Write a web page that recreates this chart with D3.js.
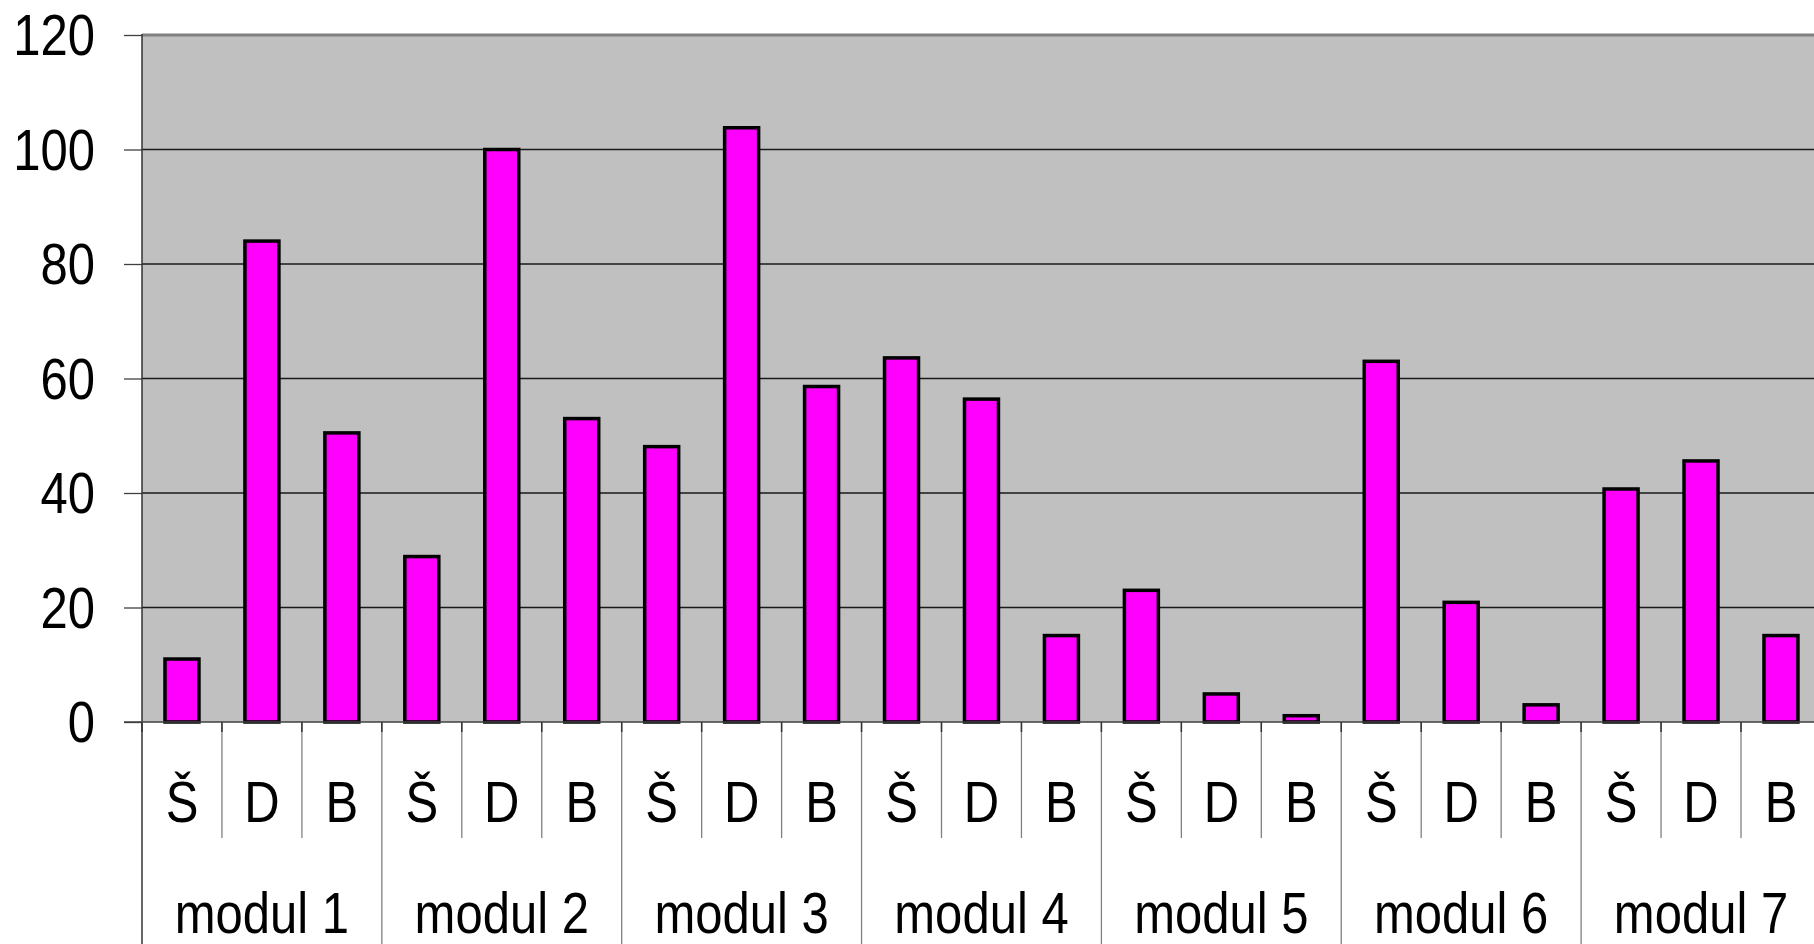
<!DOCTYPE html>
<html>
<head>
<meta charset="utf-8">
<script src="https://cdn.jsdelivr.net/npm/d3@7"></script>
<style>
    body { margin: 0; background: #fff; }
    svg { display: block; }
    text { font-family: "Liberation Sans", Arial, sans-serif; fill: #000; }
</style>
</head>
<body>
<div id="chart"></div>
<script>
var modules = ["modul 1", "modul 2", "modul 3", "modul 4", "modul 5", "modul 6", "modul 7"];
var types = ["Š", "D", "B"];
var sValues = [11, 28.9, 48.1, 63.6, 23, 63, 40.7];
var dValues = [84, 100, 103.8, 56.4, 4.9, 20.9, 45.6];
var bValues = [50.5, 53, 58.6, 15.1, 1.1, 3, 15.1];
var yTicks = [0, 20, 40, 60, 80, 100, 120];

var w = 1814, h = 944;
var plotLeft = 142, plotTop = 35, base = 722;
var step = 79.95;
var squeeze = 0.86; // the original font is drawn a bit narrow

// flatten into one row per bar
var dataSet = [];
modules.forEach(function (m, i) {
    dataSet.push({id: i + "_0", module: m, type: types[0], value: sValues[i]});
    dataSet.push({id: i + "_1", module: m, type: types[1], value: dValues[i]});
    dataSet.push({id: i + "_2", module: m, type: types[2], value: bValues[i]});
});
var ids = dataSet.map(function (d) { return d.id; });
var plotRight = plotLeft + ids.length * step;

var svg = d3.select("#chart").append("svg")
    .attr("width", w)
    .attr("height", h);

var x = d3.scaleBand().domain(ids).range([plotLeft, plotRight]);
var xBar = d3.scaleBand().domain(ids).range([plotLeft, plotRight])
    .paddingInner(0.575).paddingOuter(0.2875);
var xGroup = d3.scaleBand().domain(modules).range([plotLeft, plotRight]);
var y = d3.scaleLinear().domain([0, 120]).range([base, plotTop]);

// plot background
svg.append("rect")
    .attr("x", plotLeft)
    .attr("y", plotTop)
    .attr("width", plotRight - plotLeft)
    .attr("height", base - plotTop)
    .style("fill", "#c0c0c0");

// gridlines
svg.append("g")
    .selectAll("line")
    .data(yTicks.filter(function (d) { return d > 0 && d < 120; }))
    .enter().append("line")
    .attr("x1", plotLeft)
    .attr("x2", plotRight)
    .attr("y1", function (d) { return y(d); })
    .attr("y2", function (d) { return y(d); })
    .style("stroke", "#1a1a1a")
    .style("stroke-width", 1.3);

// top border
svg.append("line")
    .attr("x1", plotLeft).attr("x2", plotRight)
    .attr("y1", y(120)).attr("y2", y(120))
    .style("stroke", "#808080")
    .style("stroke-width", 3);

// y axis
var yAxis = d3.axisLeft(y).tickValues(yTicks).tickSize(18).tickPadding(0).tickFormat("");
var yg = svg.append("g")
    .attr("transform", "translate(" + plotLeft + ",0)")
    .call(yAxis);
yg.select(".domain").remove();
yg.selectAll(".tick line").style("stroke", "#404040").style("stroke-width", 1.3);

svg.append("g")
    .selectAll("text")
    .data(yTicks)
    .enter().append("text")
    .attr("transform", function (d) { return "translate(95," + (y(d) + 20) + ") scale(" + squeeze + ",1)"; })
    .attr("text-anchor", "end")
    .style("font-size", "57px")
    .text(function (d) { return d; });

// bars
svg.append("g")
    .selectAll("rect")
    .data(dataSet)
    .enter().append("rect")
    .attr("x", function (d) { return xBar(d.id); })
    .attr("y", function (d) { return y(d.value); })
    .attr("width", xBar.bandwidth())
    .attr("height", function (d) { return base - y(d.value); })
    .style("fill", "#ff00ff")
    .style("stroke", "#000")
    .style("stroke-width", 3.5);

// left axis line
svg.append("line")
    .attr("x1", plotLeft).attr("x2", plotLeft)
    .attr("y1", plotTop - 1).attr("y2", h)
    .style("stroke", "#333")
    .style("stroke-width", 1.5);

// category separators (inside a module)
svg.append("g")
    .selectAll("line")
    .data(dataSet.filter(function (d) { return d.type !== types[0]; }))
    .enter().append("line")
    .attr("x1", function (d) { return x(d.id); })
    .attr("x2", function (d) { return x(d.id); })
    .attr("y1", base)
    .attr("y2", 838)
    .style("stroke", "#808080")
    .style("stroke-width", 1.3);

// module separators
svg.append("g")
    .selectAll("line")
    .data(modules.slice(1))
    .enter().append("line")
    .attr("x1", function (d) { return xGroup(d); })
    .attr("x2", function (d) { return xGroup(d); })
    .attr("y1", base)
    .attr("y2", h)
    .style("stroke", "#808080")
    .style("stroke-width", 1.3);

// short dark ticks under the baseline
svg.append("g")
    .selectAll("line")
    .data(ids)
    .enter().append("line")
    .attr("x1", function (d) { return x(d); })
    .attr("x2", function (d) { return x(d); })
    .attr("y1", base)
    .attr("y2", base + 10)
    .style("stroke", "#333")
    .style("stroke-width", 1.5);

// baseline
svg.append("line")
    .attr("x1", plotLeft - 18).attr("x2", plotRight)
    .attr("y1", base).attr("y2", base)
    .style("stroke", "#404040")
    .style("stroke-width", 1.5);

// category labels
svg.append("g")
    .selectAll("text")
    .data(dataSet)
    .enter().append("text")
    .attr("transform", function (d) {
        return "translate(" + (x(d.id) + x.bandwidth() / 2) + ",822) scale(" + squeeze + ",1)";
    })
    .attr("text-anchor", "middle")
    .style("font-size", "57px")
    .text(function (d) { return d.type; });

// module labels
svg.append("g")
    .selectAll("text")
    .data(modules)
    .enter().append("text")
    .attr("transform", function (d) {
        return "translate(" + (xGroup(d) + xGroup.bandwidth() / 2) + ",933) scale(" + squeeze + ",1)";
    })
    .attr("text-anchor", "middle")
    .style("font-size", "57px")
    .text(function (d) { return d; });
</script>
</body>
</html>
